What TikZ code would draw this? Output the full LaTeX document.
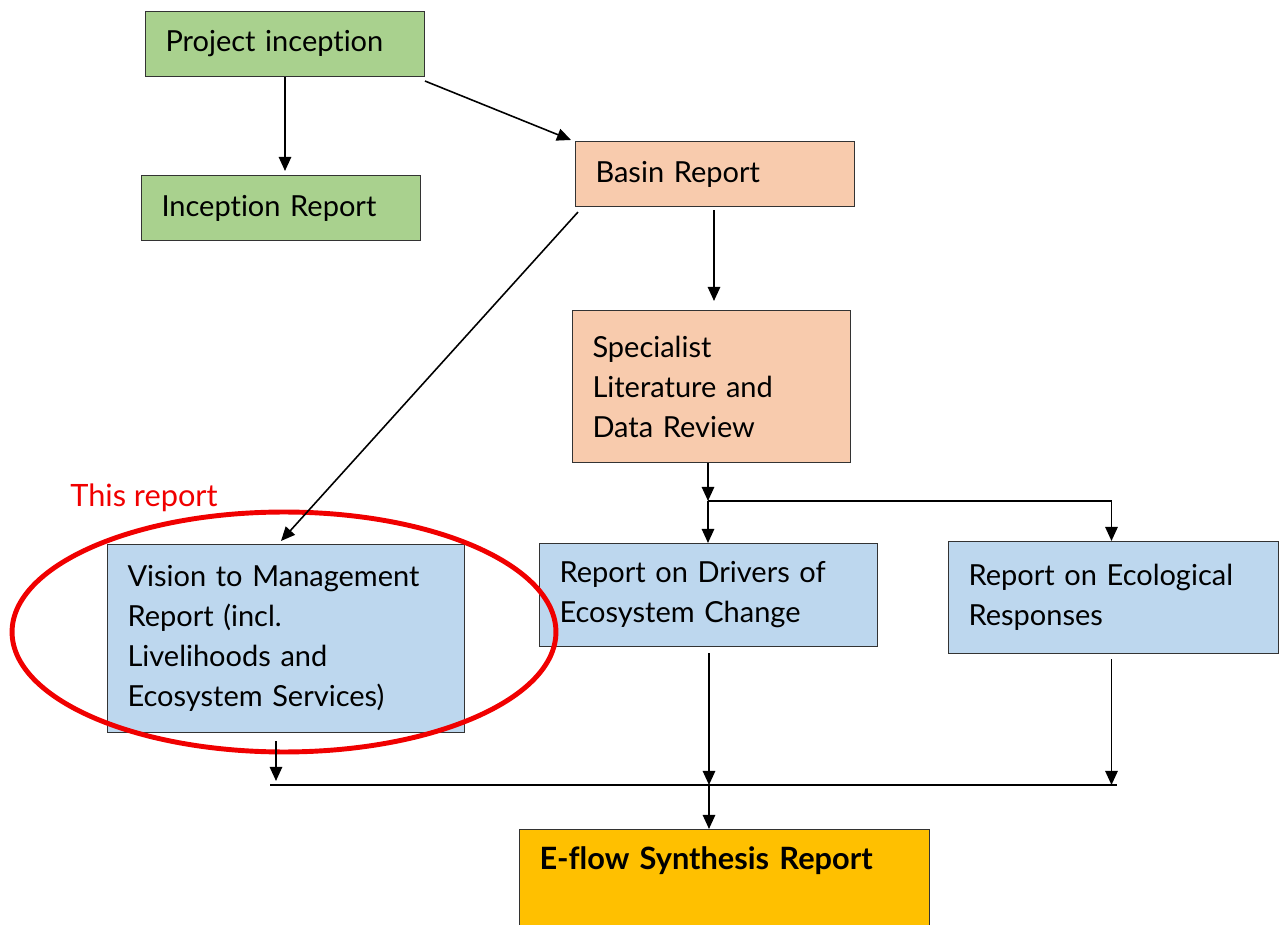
\documentclass[tikz,border=0pt]{standalone}
\usepackage{fontspec}
\setmainfont[Ligatures=NoCommon]{Lato}
\usepackage{tikz}
\usetikzlibrary{arrows.meta,positioning,calc}
\definecolor{leafgreen}{RGB}{169,209,142}
\definecolor{peach}{RGB}{248,203,173}
\definecolor{paleblue}{RGB}{189,215,238}
\definecolor{amber}{RGB}{255,192,0}
\definecolor{ringred}{RGB}{240,0,0}

\begin{document}
\begin{tikzpicture}[
  x=0.02cm, y=-0.02cm,
  rep/.style={
    draw=black!80,
    line width=0.6pt,
    anchor=north west,
    inner xsep=0.4cm,
    inner ysep=0pt,
    align=left,
    font=\fontsize{16.5}{22.8}\selectfont
  },
  arr/.style={
    line width=1.1pt,
    -{Triangle[length=8pt,width=7pt]}
  }
]
\useasboundingbox (0,0) rectangle (1285,925);

\node[rep,fill=leafgreen,minimum width=5.58cm,minimum height=1.3cm,text width=4.78cm] (proj) at (145,11) {Project inception};
\node[rep,fill=leafgreen,minimum width=5.58cm,minimum height=1.3cm,text width=4.78cm] (incep) at (141,175) {Inception Report};
\node[rep,fill=peach,minimum width=5.58cm,minimum height=1.3cm,text width=4.78cm] (basin) at (575,141) {Basin Report};
\node[rep,fill=peach,minimum width=5.56cm,minimum height=3.04cm,text width=4.76cm] (spec) at (572,310) {Specialist\\Literature and\\Data Review};
\node[rep,fill=paleblue,minimum width=7.14cm,minimum height=3.76cm,text width=6.34cm] (vision) at (107,544) {Vision to Management\\Report (incl.\\Livelihoods and\\Ecosystem Services)};
\node[rep,fill=paleblue,minimum width=6.76cm,minimum height=2.06cm,text width=5.96cm] (drivers) at (539,543) {Report on Drivers of\\Ecosystem Change};
\node[rep,fill=paleblue,minimum width=6.6cm,minimum height=2.24cm,text width=5.8cm] (eco) at (948,541) {Report on Ecological\\Responses};
\node[rep,fill=amber,minimum width=8.2cm,text width=7.4cm,inner ysep=0.2cm,text height=0.6cm,text depth=2.2cm,font=\fontsize{17.5}{22.8}\selectfont\bfseries] (eflow) at (519,829) {E-flow Synthesis Report};

\draw[ringred,line width=2.8pt] (284,632) ellipse [x radius=5.44cm,y radius=2.4cm];
\node[text=ringred,anchor=west,inner sep=0pt,font=\fontsize{17.5}{20}\selectfont] (thisrep) at (70,498) {This report};

\coordinate (split) at (708,501);
\coordinate (merge) at (709,785);
\coordinate (mleft) at (270,785);
\coordinate (mright) at (1117,785);

\draw[arr] (proj.south) -- ($(proj.south |- incep.north)+(0,-4)$);
\draw[arr,line width=0.9pt] ($(proj.south east)+(0,4)$) -- ($(basin.north west)+(-4,-1)$);
\draw[arr] ($(basin.south)+(-1,3)$) -- ($(basin.south |- spec.north)+(-1,-9)$);
\draw[arr,line width=0.9pt] ($(basin.south west)+(3,5)$) -- ($(vision.north)+(-5,-3)$);
\draw[arr] (spec.south -| split) -- (split);
\draw[arr] (split) -- (split |- drivers.north);
\draw[arr] (split) -| ($(eco.north)+(-2,0)$);
\draw[line width=1.1pt] (mleft) -- (mright);
\draw[arr] ($(vision.south)+(-10,8)$) -- ($(vision.south |- merge)+(-10,-4)$);
\draw[arr] ($(drivers.south -| merge)+(0,6)$) -- (merge);
\draw[arr] ($(eco.south)+(-2,5)$) -- ($(eco.south |- merge)+(-2,0)$);
\draw[arr] (merge) -- (merge |- eflow.north);
\end{tikzpicture}
\end{document}
